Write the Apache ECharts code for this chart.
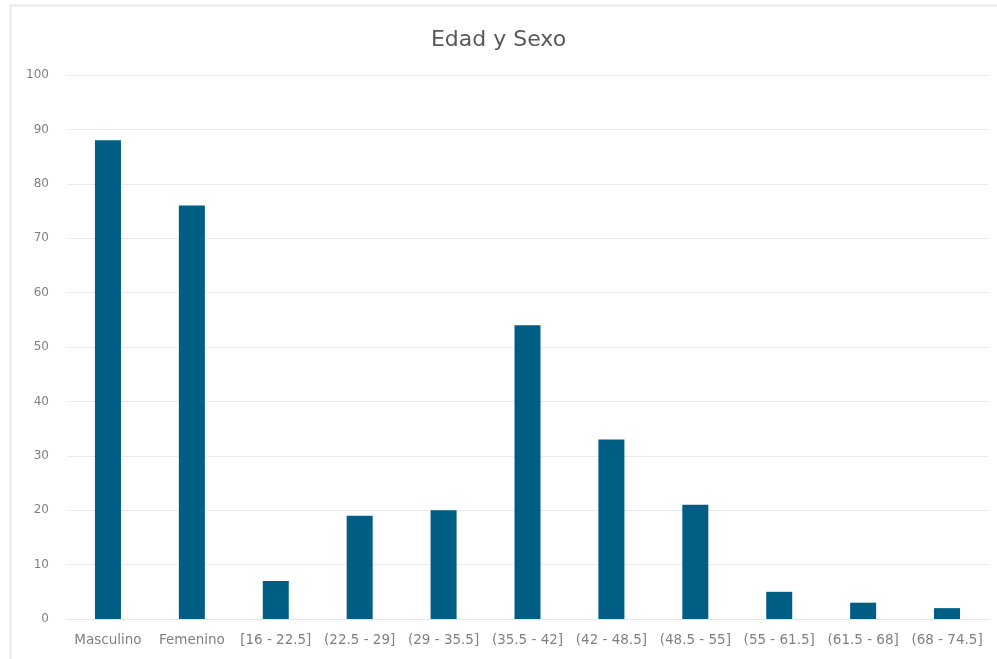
<!DOCTYPE html>
<html lang="es">
<head>
  <meta charset="UTF-8">
  <title>Edad y Sexo</title>
  <script src="https://cdn.jsdelivr.net/npm/echarts@6/dist/echarts.min.js"></script>
  <style>
    html, body { margin: 0; padding: 0; background: #fff; }
    #chart { width: 997px; height: 659px; }
  </style>
</head>
<body>
  <div id="chart"></div>
<script>
// categorias y valores
const categories = ['Masculino', 'Femenino', '[16 - 22.5]', '(22.5 - 29]', '(29 - 35.5]', '(35.5 - 42]',
  '(42 - 48.5]', '(48.5 - 55]', '(55 - 61.5]', '(61.5 - 68]', '(68 - 74.5]'];
const counts = [88, 76, 7, 19, 20, 54, 33, 21, 5, 3, 2];
const yTicks = { min: 0, max: 100, interval: 10 };

let chart = echarts.init(document.getElementById('chart'));
chart.setOption({
  animation: false,
  title: {
    text: 'Edad y Sexo',
    left: 'center',
    top: 24,
    textStyle: { color: '#595959', fontSize: 22, fontWeight: 'normal', fontFamily: 'DejaVu Sans' }
  },
  graphic: [{
    type: 'rect',
    shape: { x: 10.5, y: 5.5, width: 1100, height: 700 },
    style: { fill: 'none', stroke: '#e8e8e8', lineWidth: 2 },
    silent: true
  }],
  grid: { left: 66, right: 8, top: 75, bottom: 40 },
  xAxis: {
    type: 'category',
    data: categories,
    axisLine: { show: true, lineStyle: { color: '#e6e6e6' } },
    axisTick: { show: false },
    axisLabel: { color: '#808080', fontSize: 13.5, margin: 14, interval: 0, fontFamily: 'DejaVu Sans' }
  },
  yAxis: {
    type: 'value',
    min: yTicks.min,
    max: yTicks.max,
    interval: yTicks.interval,
    axisLine: { show: false },
    axisTick: { show: false },
    axisLabel: { color: '#808080', fontSize: 12, margin: 17, fontFamily: 'DejaVu Sans' },
    splitLine: { lineStyle: { color: '#ebebeb' } }
  },
  series: [{
    type: 'bar',
    data: counts,
    barWidth: 26,
    itemStyle: { color: '#005e84' }
  }]
});
</script>
</body>
</html>
